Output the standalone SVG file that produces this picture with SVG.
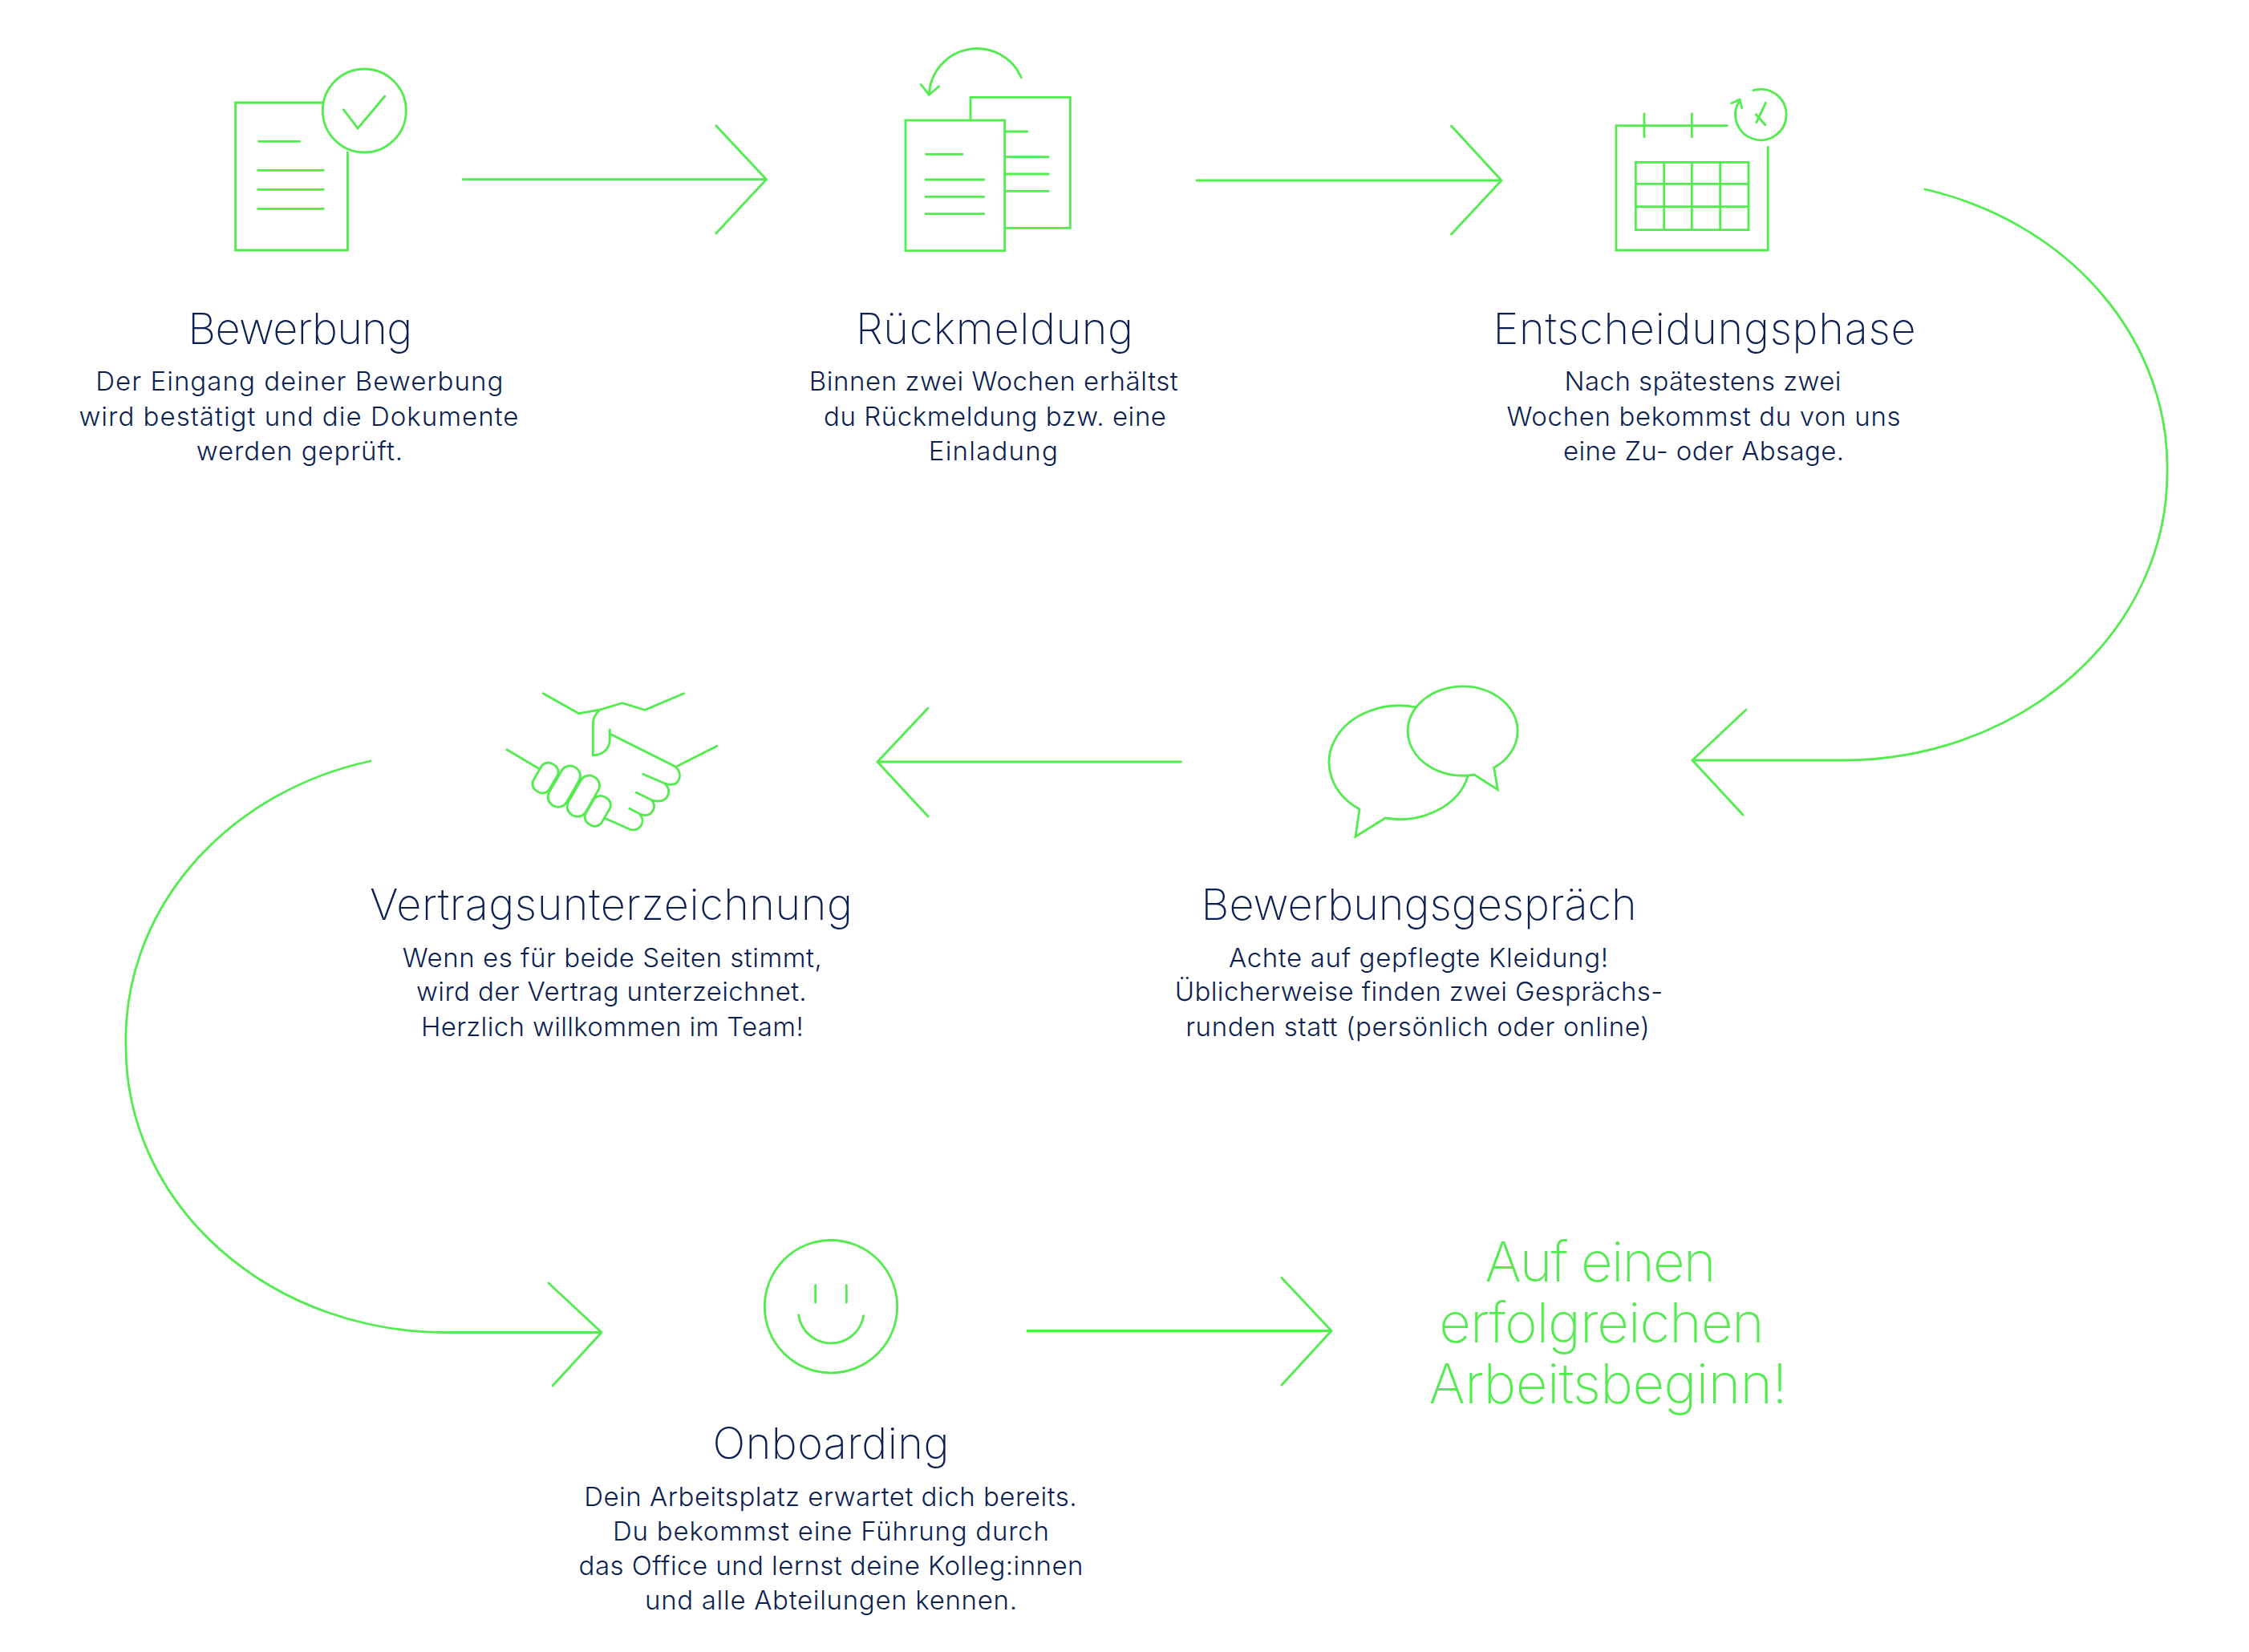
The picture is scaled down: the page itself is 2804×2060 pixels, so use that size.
<svg xmlns="http://www.w3.org/2000/svg" width="2804" height="2060" viewBox="0 0 2804 2060">
<style>
.l{fill:none;stroke:#52ec4e;stroke-width:2.8;stroke-linecap:round;stroke-linejoin:miter}
.c{fill:none;stroke:#52ec4e;stroke-width:2.8;stroke-linecap:round;stroke-linejoin:round}
text{font-family:"Inter","Liberation Sans",sans-serif;text-anchor:middle}
.t{font-size:54px;font-weight:250;fill:#0c1f50}
.b{font-size:33px;font-weight:280;fill:#0c1f50}
.g{font-size:69px;font-weight:200;fill:#52ec4e}
</style>
<rect width="2804" height="2060" fill="#fff"/>
<g id="connectors">
<path class="c" d="M577 223.700H955.500M892.800 156.700L955.500 223.700L892.800 291"/>
<path class="c" d="M1492 225H1872M1809.500 157L1872 225L1809.500 292"/>
<path class="c" d="M2400 236A404 358 0 0 1 2702 590A404 358 0 0 1 2298 948H2110M2177 885L2110 948L2173 1016"/>
<path class="c" d="M1472.500 950H1094M1157 883L1094 950L1157 1018"/>
<path class="c" d="M462 949A398 357 0 0 0 157 1306A398 355.500 0 0 0 555 1661.500H750M684 1600L750 1661.500L689 1728"/>
<path class="c" d="M1281 1659.500H1660M1598 1593.500L1660 1659.500L1598 1727"/>
</g>
<g id="bewerbung">
<path class="l" d="M402 128H293.600V312H433.400V190"/>
<circle class="l" cx="454.300" cy="138" r="52"/>
<path class="l" d="M428.300 136.700L446.100 160L479.800 120M322.700 176.300H373.700M321.600 212.300H403.300M321.600 236.300H403.300M321.600 260.300H403.300"/>
<text class="t" x="374.300" y="429" textLength="280">Bewerbung</text>
<text class="b" x="373.300" y="487.300" textLength="508">Der Eingang deiner Bewerbung</text>
<text class="b" x="372.400" y="531.300" textLength="548">wird bestätigt und die Dokumente</text>
<text class="b" x="373.400" y="574" textLength="257.500">werden geprüft.</text>
</g>
<g id="rueckmeldung">
<path class="l" d="M1210 150V121.300H1334.300V284.300H1252.700"/>
<rect class="l" x="1129" y="150" width="123.700" height="162.700"/>
<path class="l" d="M1154.700 192.300H1200M1154 224H1226.700M1154 245.300H1226.700M1154 266.700H1226.700M1252.700 164H1280.700M1252.700 195.700H1307.300M1252.700 217H1307.300M1252.700 238.300H1307.300"/>
<path class="l" d="M1273.300 96.700A60 60 0 0 0 1158.300 118.300M1148.300 105.300L1158.300 118.300L1170.700 107.700"/>
<text class="t" x="1240" y="429" textLength="346">Rückmeldung</text>
<text class="b" x="1238.700" y="487.300" textLength="460">Binnen zwei Wochen erhältst</text>
<text class="b" x="1240.500" y="531.300" textLength="427">du Rückmeldung bzw. eine</text>
<text class="b" x="1238.300" y="574" textLength="161">Einladung</text>
</g>
<g id="entscheidungsphase">
<path class="l" d="M2153.300 156.700H2015V312H2204.300V183.300M2050 142V170.700M2109.300 142V170.700"/>
<path class="l" d="M2039.300 202.300H2180V286.700H2039.300ZM2074.700 202.300V286.700M2109.300 202.300V286.700M2144.700 202.300V286.700M2039.300 229.300H2180M2039.300 257.700H2180"/>
<path class="l" d="M2186 112.700A31.700 31.700 0 1 1 2169.300 125M2158.700 128.700L2169 124.300L2171.700 134.700M2201.300 128.300L2190 152.700M2189.300 142.700L2201 155.700"/>
<text class="t" x="2125" y="429" textLength="527">Entscheidungsphase</text>
<text class="b" x="2123" y="487.300" textLength="345">Nach spätestens zwei</text>
<text class="b" x="2124" y="531.300" textLength="491">Wochen bekommst du von uns</text>
<text class="b" x="2124" y="574" textLength="350">eine Zu- oder Absage.</text>
</g>
<g id="bewerbungsgespraech">
<path class="l" d="M1766 882A87.700 70.800 0 0 0 1695 1009L1690 1043.300L1727.300 1020A87.700 70.800 0 0 0 1830 968.300"/>
<path class="l" d="M1838 966A68.500 55.700 0 1 1 1862.700 957.300L1867.300 984.700Z"/>
<text class="t" x="1769.100" y="1146.700" textLength="543">Bewerbungsgespräch</text>
<text class="b" x="1768.500" y="1205.700" textLength="473">Achte auf gepflegte Kleidung!</text>
<text class="b" x="1768.900" y="1248.300" textLength="608.400">Üblicherweise finden zwei Gesprächs-</text>
<text class="b" x="1767.400" y="1292.300" textLength="578.500">runden statt (persönlich oder online)</text>
</g>
<g id="vertragsunterzeichnung">
<path class="l" d="M677.300 864.700L721.700 889.700L748.300 885L775.700 876.700L804 885.300L852.700 864.700"/>
<path class="l" d="M748.300 885C742 890 739.300 896 739.300 903.300V941.700C752 941.700 760.300 933 760.300 921.700V910"/>
<path class="l" d="M760.300 915L841.700 955.700C850 961 850 978.300 836.700 978.300C833 978.300 830 977.500 828.300 976.700L801.700 965.300M828.300 976.700C838 985 834 999 820 999C816 999 813.500 998 811.700 997.300L793.300 988.300M811.700 997.300C820 1005 813 1016.700 804.300 1016.700C801.500 1016.700 799 1015.500 796.700 1014.300L784.700 1008.300M796.700 1014.300C806 1023 799 1037 786 1034.500L755 1020.700"/>
<path class="l" d="M845 955L894 930.300M632 934.700L670.700 957.700"/>
<rect class="l" x="668.500" y="950.500" width="23" height="39" rx="10" transform="rotate(30 680 970)"/>
<rect class="l" x="690.800" y="953.200" width="25" height="55" rx="12" transform="rotate(30 703.300 980.700)"/>
<rect class="l" x="714.800" y="965.200" width="25" height="55" rx="12" transform="rotate(30 727.300 992.700)"/>
<rect class="l" x="733.800" y="991.800" width="23" height="39" rx="10" transform="rotate(30 745.300 1011.300)"/>
<text class="t" x="762" y="1146.700" textLength="601.800">Vertragsunterzeichnung</text>
<text class="b" x="763.300" y="1205.700" textLength="523">Wenn es für beide Seiten stimmt,</text>
<text class="b" x="762.400" y="1248.300" textLength="486.600">wird der Vertrag unterzeichnet.</text>
<text class="b" x="763.300" y="1292.300" textLength="476.800">Herzlich willkommen im Team!</text>
</g>
<g id="onboarding">
<circle class="l" cx="1036" cy="1629.200" r="82.700"/>
<path class="l" d="M1016.700 1602.700V1624M1055.300 1602.700V1624M995.700 1640A41 41 0 0 0 1076.700 1640.700"/>
<text class="t" x="1036" y="1819.300" textLength="294.900">Onboarding</text>
<text class="b" x="1035.400" y="1877.700" textLength="614.500">Dein Arbeitsplatz erwartet dich bereits.</text>
<text class="b" x="1036" y="1920.700" textLength="543.800">Du bekommst eine Führung durch</text>
<text class="b" x="1036" y="1964" textLength="628.800">das Office und lernst deine Kolleg:innen</text>
<text class="b" x="1036" y="2007.300" textLength="464">und alle Abteilungen kennen.</text>
</g>
<g id="arbeitsbeginn">
<text class="g" x="1995.400" y="1597.700" textLength="288">Auf einen</text>
<text class="g" x="1997" y="1673.700" textLength="405.600">erfolgreichen</text>
<text class="g" x="2005" y="1749.700" textLength="447">Arbeitsbeginn!</text>
</g>
</svg>
